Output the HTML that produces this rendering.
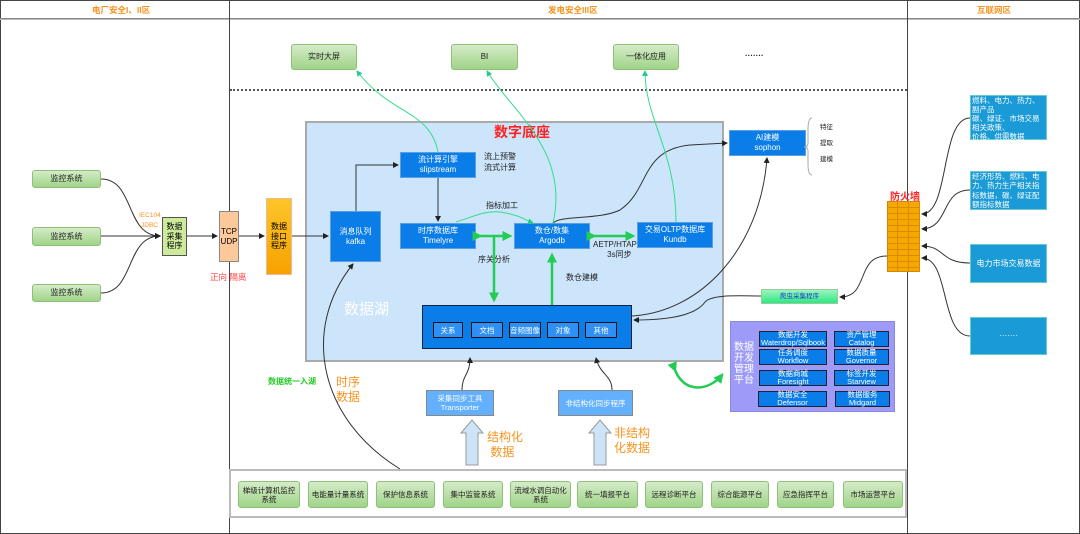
<!DOCTYPE html>
<html><head><meta charset="utf-8"><style>
*{margin:0;padding:0;box-sizing:border-box}
body{width:1080px;height:534px;background:#fff;position:relative;overflow:hidden;font-family:"Liberation Sans","Noto Sans CJK SC",sans-serif}
.a{position:absolute;display:flex;align-items:center;justify-content:center;text-align:center;line-height:1.2}
.g{background:linear-gradient(#d5ebc9,#9fd487);border:1px solid #8fc07a;border-radius:3px;font-size:8px;color:#222}
.b{background:#0a7de8;color:#fff;font-size:8px;border:1px solid #5aa0e0}
.c{background:#2e8ff5;color:#fff;font-size:7.5px;border:1px solid #111;border-radius:1px}
.r{background:#1a9ad6;color:#fff;font-size:8px;border:1px solid #6cc}
.t{position:absolute;font-size:8px;color:#222;white-space:nowrap}
.p{background:#0a7de8;color:#fff;font-size:7.5px;border:1.5px solid #223;line-height:1.1}
</style></head><body>
<div style="position:absolute;left:0;top:0;width:1080px;height:534px;border:1px solid #444"></div>
<div style="position:absolute;left:0;top:18px;width:1080px;height:2px;border-top:1px solid #888;border-bottom:1px solid #bbb"></div>
<div style="position:absolute;left:229px;top:0;width:1px;height:534px;background:#444"></div>
<div style="position:absolute;left:907px;top:0;width:1px;height:534px;background:#444"></div>
<div class="t" style="left:92px;top:4px;color:#f7931e;font-weight:bold;font-size:8.5px">电厂安全I、II区</div>
<div class="t" style="left:548px;top:4px;color:#f7931e;font-weight:bold;font-size:8.5px">发电安全III区</div>
<div class="t" style="left:977px;top:4px;color:#f7931e;font-weight:bold;font-size:8.5px">互联网区</div>
<div style="position:absolute;left:230px;top:89px;width:677px;border-top:2px dotted #555"></div>

<div class="a g" style="left:291px;top:44px;width:66px;height:26px">实时大屏</div>
<div class="a g" style="left:451px;top:44px;width:67px;height:26px">BI</div>
<div class="a g" style="left:613px;top:44px;width:66px;height:26px">一体化应用</div>
<div class="t" style="left:745px;top:51px;font-weight:bold">·······</div>

<div style="position:absolute;left:305px;top:121px;width:419px;height:241px;background:#cce5fb;border:2px solid #aaa"></div>
<div class="t" style="left:494px;top:122px;color:#f22;font-size:14px;font-weight:bold">数字底座</div>
<div class="t" style="left:344px;top:298px;color:#fff;font-size:15px">数据湖</div>

<div class="a g" style="left:32px;top:170px;width:69px;height:18px">监控系统</div>
<div class="a g" style="left:32px;top:227px;width:69px;height:19px">监控系统</div>
<div class="a g" style="left:32px;top:284px;width:69px;height:18px">监控系统</div>
<div class="a" style="left:162px;top:217px;width:25px;height:39px;background:#cdeb9b;border:1px solid #555;font-size:8px">数据<br>采集<br>程序</div>
<div class="t" style="left:139px;top:212px;color:#f7931e;font-size:6.5px">IEC104</div>
<div class="t" style="left:141px;top:222px;color:#f7931e;font-size:6.5px">JDBC</div>
<div class="a" style="left:219px;top:211px;width:20px;height:51px;background:#fdc99b;border:1px solid #888;font-size:8px">TCP<br>UDP</div>
<div class="t" style="left:210px;top:271px;color:#f44;font-size:8.5px">正向 隔离</div>
<div class="a" style="left:266px;top:198px;width:26px;height:77px;background:linear-gradient(#fcc52a,#f7a200);border:1px solid #eb9;font-size:8px">数据<br>接口<br>程序</div>

<div class="a b" style="left:330px;top:211px;width:51px;height:51px">消息队列<br>kafka</div>
<div class="a b" style="left:400px;top:152px;width:76px;height:26px">流计算引擎<br>slipstream</div>
<div class="t" style="left:484px;top:151px">流上预警<br>流式计算</div>
<div class="a b" style="left:400px;top:223px;width:76px;height:26px">时序数据库<br>Timelyre</div>
<div class="a b" style="left:514px;top:223px;width:76px;height:26px">数仓/数集<br>Argodb</div>
<div class="a b" style="left:637px;top:222px;width:76px;height:26px">交易OLTP数据库<br>Kundb</div>
<div class="t" style="left:486px;top:200px">指标加工</div>
<div class="t" style="left:478px;top:254px">序关分析</div>
<div class="t" style="left:593px;top:240px;text-align:center;line-height:1.3">AETP/HTAP<br>&nbsp;&nbsp;&nbsp;&nbsp;3s同步</div>
<div class="t" style="left:566px;top:272px">数仓建模</div>

<div style="position:absolute;left:422px;top:305px;width:210px;height:44px;background:#0a7de8;border:1px solid #124"></div>
<div class="a c" style="left:433px;top:322px;width:30px;height:16px">关系</div>
<div class="a c" style="left:471px;top:322px;width:32px;height:16px">文档</div>
<div class="a c" style="left:509px;top:322px;width:32px;height:16px">音频图像</div>
<div class="a c" style="left:547px;top:322px;width:32px;height:16px">对象</div>
<div class="a c" style="left:585px;top:322px;width:32px;height:16px">其他</div>

<div class="a b" style="left:729px;top:130px;width:77px;height:26px">AI建模<br>sophon</div>
<div class="t" style="left:820px;top:121px;font-size:6.5px">特征</div>
<div class="t" style="left:820px;top:137px;font-size:6.5px">提取</div>
<div class="t" style="left:820px;top:153px;font-size:6.5px">建模</div>

<div class="t" style="left:890px;top:188px;color:#f22;font-size:10px;font-weight:bold">防火墙</div>
<div style="position:absolute;left:887px;top:201px;width:33px;height:71px;background:repeating-linear-gradient(#f7a800 0 5px,#d98c00 5px 6px);border:1px solid #c80"></div>
<div style="position:absolute;left:887px;top:201px;width:33px;height:71px;background:repeating-linear-gradient(90deg,transparent 0 10px,#d98c00 10px 11px)"></div>

<div class="r" style="position:absolute;left:970px;top:95px;width:77px;height:45px;font-size:7.5px;line-height:1.2;padding-left:1px">燃料、电力、热力、副产品<br>碳、绿证、市场交易相关政策、<br>价格、供需数据</div>
<div class="r" style="position:absolute;left:970px;top:171px;width:77px;height:39px;font-size:7.5px;line-height:1.25;padding-left:1px">经济形势、燃料、电力、热力生产相关指标数据，碳、绿证配额指标数据</div>
<div class="a r" style="left:970px;top:244px;width:77px;height:39px">电力市场交易数据</div>
<div class="a r" style="left:970px;top:317px;width:77px;height:38px">·······</div>

<div class="a" style="left:761px;top:289px;width:77px;height:15px;background:linear-gradient(#9cf5c0,#2ee883);border:1px solid #9c9;font-size:6.5px;color:#1c3bd0">爬虫采集程序</div>

<div style="position:absolute;left:730px;top:321px;width:165px;height:91px;background:#9d9bf7;border:1px solid #88d"></div>
<div class="t" style="left:734px;top:342px;color:#fff;font-size:10px;line-height:1.1">数据<br>开发<br>管理<br>平台</div>
<div class="a p" style="left:759px;top:331px;width:68px;height:16px">数据开发<br>Waterdrop/Sqlbook</div>
<div class="a p" style="left:834px;top:331px;width:55px;height:16px">资产管理<br>Catalog</div>
<div class="a p" style="left:759px;top:349px;width:68px;height:16px">任务调度<br>Workflow</div>
<div class="a p" style="left:834px;top:349px;width:55px;height:16px">数据质量<br>Governor</div>
<div class="a p" style="left:759px;top:370px;width:68px;height:16px">数据商城<br>Foresight</div>
<div class="a p" style="left:834px;top:370px;width:55px;height:16px">标签开发<br>Starview</div>
<div class="a p" style="left:758px;top:391px;width:69px;height:16px">数据安全<br>Defensor</div>
<div class="a p" style="left:835px;top:391px;width:55px;height:16px">数据服务<br>Midgard</div>

<div class="a" style="left:426px;top:390px;width:68px;height:26px;background:#63b0ff;border:1px solid #888;color:#fff;font-size:7.5px">采集同步工具<br>Transporter</div>
<div class="a" style="left:558px;top:390px;width:75px;height:26px;background:#63b0ff;border:1px solid #888;color:#fff;font-size:7.5px">非结构化同步程序</div>
<div class="t" style="left:268px;top:376px;color:#2c2;font-size:8px;font-weight:bold">数据统一入湖</div>
<div class="t" style="left:336px;top:375px;color:#f7931e;font-size:12px;line-height:1.25">时序<br>数据</div>
<div class="t" style="left:487px;top:430px;color:#f7931e;font-size:12px;line-height:1.25">结构化<br>&nbsp;数据</div>
<div class="t" style="left:614px;top:426px;color:#f7931e;font-size:12px;line-height:1.25">非结构<br>化数据</div>

<div style="position:absolute;left:229px;top:469px;width:678px;height:49px;border:2px solid #bbb;background:#fff"></div>
<div class="a g" style="left:238px;top:481px;width:62px;height:27px;font-size:7.5px">梯级计算机监控<br>系统</div>
<div class="a g" style="left:308px;top:481px;width:60px;height:27px;font-size:7.5px">电能量计量系统</div>
<div class="a g" style="left:376px;top:481px;width:59px;height:27px;font-size:7.5px">保护信息系统</div>
<div class="a g" style="left:443px;top:481px;width:60px;height:27px;font-size:7.5px">集中监管系统</div>
<div class="a g" style="left:510px;top:481px;width:61px;height:27px;font-size:7.5px">流域水调自动化<br>系统</div>
<div class="a g" style="left:577px;top:481px;width:61px;height:27px;font-size:7.5px">统一填报平台</div>
<div class="a g" style="left:645px;top:481px;width:58px;height:27px;font-size:7.5px">远程诊断平台</div>
<div class="a g" style="left:711px;top:481px;width:58px;height:27px;font-size:7.5px">综合能源平台</div>
<div class="a g" style="left:777px;top:481px;width:57px;height:27px;font-size:7.5px">应急指挥平台</div>
<div class="a g" style="left:843px;top:481px;width:60px;height:27px;font-size:7.5px">市场运营平台</div>

<svg width="1080" height="534" style="position:absolute;left:0;top:0" xmlns="http://www.w3.org/2000/svg">
<defs>
<marker id="k" markerWidth="6" markerHeight="6" refX="5" refY="3" orient="auto"><path d="M0,0L6,3L0,6z" fill="#222"/></marker>
<marker id="gm" markerWidth="6" markerHeight="6" refX="5" refY="3" orient="auto"><path d="M0,0L6,3L0,6z" fill="#2c8"/></marker>
<marker id="G" markerWidth="4" markerHeight="4" refX="3" refY="2" orient="auto"><path d="M0,0L4,2L0,4z" fill="#2c5"/></marker>
</defs>
<g fill="none" stroke="#333" stroke-width="1">
<path d="M101,179 C135,179 125,236 160,236" marker-end="url(#k)"/>
<path d="M101,236 L160,236" marker-end="url(#k)"/>
<path d="M101,293 C135,293 125,236 160,236" marker-end="url(#k)"/>
<path d="M187,236 L217,236" marker-end="url(#k)"/>
<path d="M239,236 L264,236" marker-end="url(#k)"/>
<path d="M292,236 L328,236" marker-end="url(#k)"/>
<path d="M356,211 L356,165 L398,165" marker-end="url(#k)"/>
<path d="M438,178 L438,221" marker-end="url(#k)"/>
<path d="M553,223 C560,215 600,220 620,210 C650,190 640,150 690,145 L727,143" marker-end="url(#k)"/>
<path d="M632,316 C700,312 760,250 767,158" marker-end="url(#k)"/>
<path d="M761,296 C740,296 712,294 705,302 C698,312 680,320 634,320" marker-end="url(#k)"/>
<path d="M887,256 C855,256 870,297 840,297" marker-end="url(#k)"/>
<path d="M970,118 C940,118 950,214 922,214" marker-end="url(#k)"/>
<path d="M970,190 C940,190 950,228 922,229" marker-end="url(#k)"/>
<path d="M970,263 C940,263 945,246 922,246" marker-end="url(#k)"/>
<path d="M970,336 C940,336 950,258 922,258" marker-end="url(#k)"/>
<path d="M462,390 C462,375 470,375 470,358" marker-end="url(#k)"/>
<path d="M612,390 C612,375 600,375 596,358" marker-end="url(#k)"/>
<path d="M400,469 C320,420 300,330 353,264" marker-end="url(#k)"/>
<path d="M812,118 Q808,118 808,130 L808,143 Q808,147 804,147 Q808,147 808,151 L808,164 Q808,175 812,175" stroke="#aaa"/>
</g>
<g fill="none" stroke="#3d8" stroke-width="1">
<path d="M438,152 C430,110 390,115 357,71" marker-end="url(#gm)"/>
<path d="M553,223 C570,150 510,110 487,71" marker-end="url(#gm)"/>
<path d="M676,222 C676,150 645,120 645,71" marker-end="url(#gm)"/>
<path d="M456,222 C470,218 485,210 500,212 C520,215 525,220 533,223" marker-end="url(#gm)"/>
</g>
<g fill="none" stroke="#2c5" stroke-width="2.5">
<path d="M480,236 L510,236" marker-start="url(#G)" marker-end="url(#G)"/>
<path d="M494,236 L494,300" marker-end="url(#G)"/>
<path d="M552,305 L552,255" marker-end="url(#G)"/>
<path d="M594,236 L633,236" marker-start="url(#G)" marker-end="url(#G)"/>
<path d="M675,370 C685,395 710,390 722,375" marker-start="url(#G)" marker-end="url(#G)"/>
</g>
<g fill="#cde3f7" stroke="#999" stroke-width="1">
<path d="M466,465 L466,433 L461,433 L472,420 L483,433 L478,433 L478,465 Z"/>
<path d="M594,465 L594,433 L589,433 L600,420 L611,433 L606,433 L606,465 Z"/>
</g>
</svg>
</body></html>
